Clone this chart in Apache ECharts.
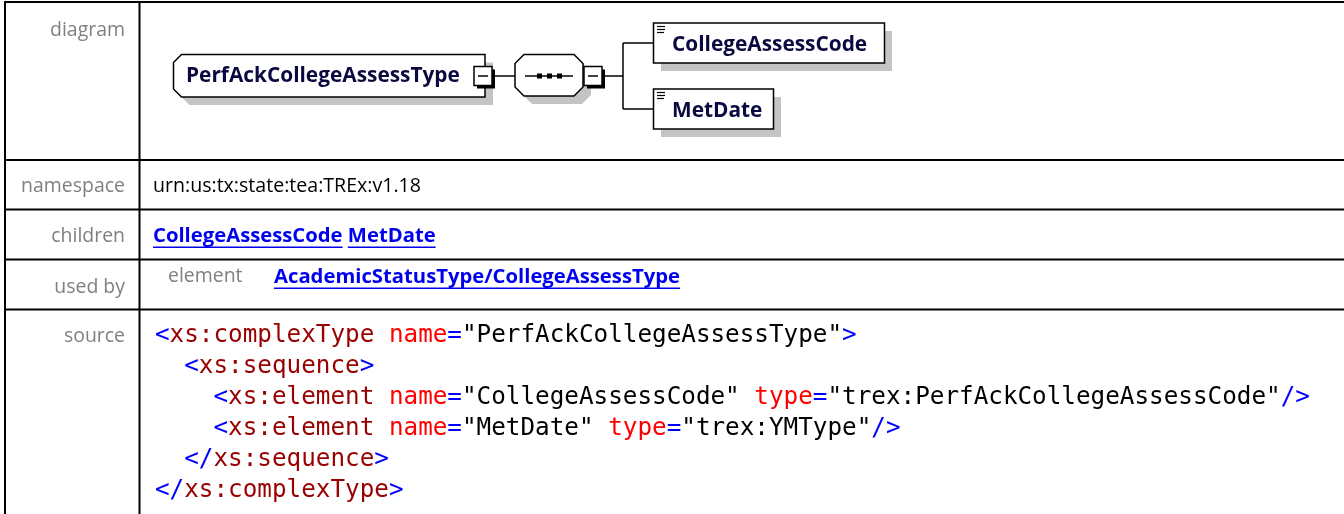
<!DOCTYPE html>
<html><head><meta charset="utf-8">
<script src="https://cdn.jsdelivr.net/npm/echarts@6/dist/echarts.min.js"></script>
<style>html,body{margin:0;padding:0;background:#fff;overflow:hidden}#c{width:1344px;height:514px}</style>
</head><body><div id="c"></div>
<script>
// ---- content ----
const rowLabels = ['diagram', 'namespace', 'children', 'used by', 'source'];
const typeName = 'PerfAckCollegeAssessType';
const namespaceText = 'urn:us:tx:state:tea:TREx:v1.18';
const childNames = ['CollegeAssessCode', 'MetDate'];
const childTypes = ['trex:PerfAckCollegeAssessCode', 'trex:YMType'];
const usedByKinds = ['element'];
const usedByPaths = ['AcademicStatusType/CollegeAssessType'];

// ---- helpers ----
const mctx = document.createElement('canvas').getContext('2d');
function tw(text, font) { mctx.font = font; return mctx.measureText(text).width; }
function fitSize(text, weight, family, target) { return 100 * target / tw(text, weight + ' 100px ' + family); }
const els = [];
function rect(x, y, w, h, fill, stroke, lw) { els.push({type:'rect', silent:true, shape:{x, y, width:w, height:h}, style:{fill: fill || 'none', stroke: stroke || 'none', lineWidth: lw || 0}}); }
function line(x1, y1, x2, y2, stroke, lw) { els.push({type:'line', silent:true, shape:{x1, y1, x2, y2}, style:{stroke, lineWidth: lw}}); }
function poly(points, fill, stroke, lw) { els.push({type:'polygon', silent:true, shape:{points}, style:{fill, stroke: stroke || 'none', lineWidth: lw || 0}}); }
function text(x, y, str, font, fill, align) {
  els.push({type:'text', silent:true, x, y, style:{text: str, font, fill, align: align || 'left', verticalAlign:'middle', textAlign: align || 'left', textVerticalAlign:'middle'}});
}

const SANS = '"Open Sans"';
const MONO = '"DejaVu Sans Mono"';

// ---- table grid ----
const W = 1344, H = 514;
rect(4, 1, W - 4, 2, '#000');
rect(4, 1, 2, H, '#000');
rect(138.5, 1, 2, H, '#000');
[160, 209.5, 259.5, 309.5].forEach(y => rect(4, y - 1, W - 4, 2, '#000'));

// ---- row labels ----
const labelY = [30, 186, 236, 287, 336];
const labelSize = fitSize('diagram', 'normal', SANS, 75);
rowLabels.forEach((l, i) => text(125, labelY[i], l, `normal ${labelSize}px ${SANS}`, '#808080', 'right'));

// ---- namespace ----
const nsSize = fitSize(namespaceText, 'normal', SANS, 268);
text(153, 186, namespaceText, `normal ${nsSize}px ${SANS}`, '#000');

// ---- links ----
const LINK = '#0000ee';
const linkSize = fitSize(usedByPaths[0], 'bold', SANS, 406);
const linkFont = `bold ${linkSize}px ${SANS}`;
function link(x, y, str) {
  text(x, y, str, linkFont, LINK);
  const w = tw(str, linkFont);
  rect(x, y + linkSize * 0.52, w, 1.5, LINK);
  return w;
}
let cx = 153;
childNames.forEach(n => { const w = link(cx, 236, n); cx += w + tw(' ', linkFont); });
text(168, 276, usedByKinds[0], `normal ${labelSize}px ${SANS}`, '#808080');
link(274, 277, usedByPaths[0]);

// ---- diagram ----
const SH = '#c4c4c4', NAVY = '#0a0a40';
const cy = 76;
function elemBox(x1, y1, x2, y2, c) {
  const pts = (dx, dy) => [[x1 + c + dx, y1 + dy], [x2 + dx, y1 + dy], [x2 + dx, y2 + dy], [x1 + c + dx, y2 + dy], [x1 + dx, y2 - c + dy], [x1 + dx, y1 + c + dy]];
  poly(pts(8, 8), SH);
  poly(pts(0, 0), '#fff', '#000', 1.5);
}
function octa(x1, y1, x2, y2, c) {
  const pts = (dx, dy) => [[x1 + c + dx, y1 + dy], [x2 - c + dx, y1 + dy], [x2 + dx, y1 + c + dy], [x2 + dx, y2 - c + dy], [x2 - c + dx, y2 + dy], [x1 + c + dx, y2 + dy], [x1 + dx, y2 - c + dy], [x1 + dx, y1 + c + dy]];
  poly(pts(8, 8), SH);
  poly(pts(0, 0), '#fff', '#000', 1.5);
}
function minusBox(x, y) {
  rect(x + 3, y + 3, 18, 19, '#000');
  rect(x, y, 18, 19, '#fff', '#000', 1.5);
  line(x + 4, y + 9.5, x + 14, y + 9.5, '#000', 1.5);
}
// main element
elemBox(173.5, 54.5, 485, 97, 8);
const boxSize = fitSize(typeName, 'bold', SANS, 274);
text(186, cy, typeName, `bold ${boxSize}px ${SANS}`, NAVY);
minusBox(474, 66.5);
line(495, cy, 515, cy, '#000', 1.5);
// sequence
octa(515, 54.5, 583, 96, 9);
line(525, cy, 573, cy, '#000', 1.5);
[539.5, 549.5, 559.5].forEach(x => rect(x - 2.5, cy - 2.5, 5, 5, '#000'));
minusBox(584, 66.5);
line(605, cy, 623, cy, '#000', 1.5);
// branches
const childY = [43, 109];
line(623, childY[0], 623, childY[1], '#000', 1.5);
const childW = [231, 120];
childNames.forEach((n, i) => {
  const y = childY[i];
  line(623, y, 653, y, '#000', 1.5);
  rect(661, y - 20 + 8, childW[i], 40, SH);
  rect(653.5, y - 20, childW[i], 40, '#fff', '#000', 1.5);
  [0, 3, 6].forEach((o, k) => line(657, y - 16.5 + o, 665 - (k === 2 ? 1 : 0), y - 16.5 + o, '#000', 1.2));
  text(672, y + 2, n, `bold ${boxSize}px ${SANS}`, NAVY);
});

// ---- source code ----
const codeSize = fitSize('x'.repeat(48), 'normal', MONO, 702);
const codeFont = `normal ${codeSize}px ${MONO}`;
const adv = tw('x', codeFont);
const TAG = '#990000', MARK = '#0000ff', ATTR = '#ff0000', VAL = '#000000';
const codeLines = [
  {indent: 0, open: '<', tag: 'xs:complexType', attrs: [['name', typeName]], close: '>'},
  {indent: 1, open: '<', tag: 'xs:sequence', attrs: [], close: '>'},
  {indent: 2, open: '<', tag: 'xs:element', attrs: [['name', childNames[0]], ['type', childTypes[0]]], close: '/>'},
  {indent: 2, open: '<', tag: 'xs:element', attrs: [['name', childNames[1]], ['type', childTypes[1]]], close: '/>'},
  {indent: 1, open: '</', tag: 'xs:sequence', attrs: [], close: '>'},
  {indent: 0, open: '</', tag: 'xs:complexType', attrs: [], close: '>'}
];
codeLines.forEach((ln, i) => {
  const y = 336 + i * 31;
  let col = ln.indent * 2;
  const put = (s, c) => { text(155 + col * adv, y, s, codeFont, c); col += s.length; };
  put(ln.open, MARK);
  put(ln.tag, TAG);
  ln.attrs.forEach(([k, v]) => { col += 1; put(k, ATTR); put('=', MARK); put('"' + v + '"', VAL); });
  put(ln.close, MARK);
});

const chart = echarts.init(document.getElementById('c'), null, {renderer: 'canvas', width: W, height: H});
chart.setOption({backgroundColor: '#fff', animation: false, graphic: {elements: els}});
</script></body></html>
